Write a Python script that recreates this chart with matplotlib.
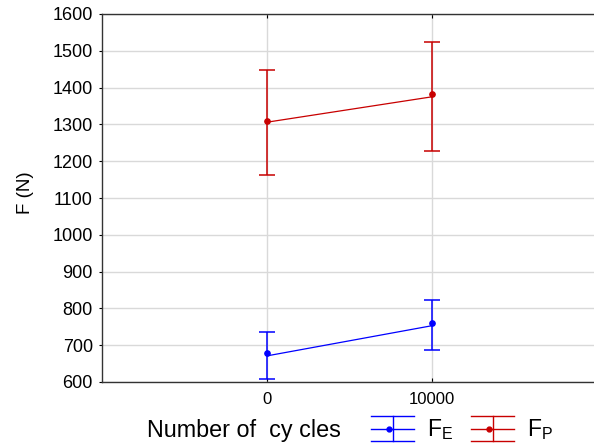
import matplotlib
matplotlib.use("Agg")
import matplotlib.pyplot as plt
from matplotlib.lines import Line2D

plt.rcParams['font.family'] = ['Liberation Sans', 'DejaVu Sans']

# data
cycles = [0, 10000]
fe_line = [671, 753]
fe_dot = [680, 759]
fe_low = [607, 687]
fe_high = [735, 822]
fp_line = [1306, 1375]
fp_dot = [1310, 1383]
fp_low = [1163, 1227]
fp_high = [1449, 1523]

blue = '#0000ff'
red = '#c80000'


class ErrHandler:
    # legend glyph: three full-width horizontal lines, a vertical bar and a dot
    def legend_artist(self, legend, orig_handle, fontsize, handlebox):
        x0, y0 = -handlebox.xdescent, -handlebox.ydescent
        w, h = handlebox.width, handlebox.height
        col = orig_handle.get_color()
        cy = y0 + h / 2
        half = 9.1
        for yy in (cy - half, cy, cy + half):
            handlebox.add_artist(Line2D([x0, x0 + w], [yy, yy], color=col, lw=1.0))
        handlebox.add_artist(Line2D([x0 + w / 2] * 2, [cy - half, cy + half], color=col, lw=1.0))
        dot = Line2D([x0 + w / 2 - 2.5], [cy], marker='o', ms=3.5, color=col, ls='none')
        handlebox.add_artist(dot)
        return dot


fig = plt.figure(figsize=(5.94, 4.45), dpi=100)
ax = fig.add_axes([102 / 594, 1 - 382 / 445, 495 / 594, 368 / 445])

handles = []
for line, dot, low, high, col in [(fe_line, fe_dot, fe_low, fe_high, blue),
                                  (fp_line, fp_dot, fp_low, fp_high, red)]:
    ax.plot(cycles, line, color=col, lw=0.9, zorder=3)
    ax.plot(cycles, dot, 'o', color=col, ms=3.8, zorder=4)
    yerr = [[d - l for d, l in zip(dot, low)], [h - d for d, h in zip(dot, high)]]
    ax.errorbar(cycles, dot, yerr=yerr, fmt='none', ecolor=col,
                elinewidth=1.1, capsize=6, capthick=1.1, zorder=3)
    handles.append(Line2D([], [], color=col))

ax.set_xlim(-10000, 20000)
ax.set_ylim(600, 1600)
ax.set_xticks(cycles)
ax.set_xticklabels(['0', '10000'])
ax.set_yticks(range(600, 1700, 100))
ax.grid(True, color='#d9d9d9', lw=1.0, zorder=0)
ax.set_axisbelow(True)
ax.spines['right'].set_visible(False)
for s in ['left', 'bottom', 'top']:
    ax.spines[s].set_color('#333333')
    ax.spines[s].set_linewidth(1.0)
ax.tick_params(axis='x', direction='in', length=3, labelsize=12, top=True, pad=7)
ax.tick_params(axis='y', direction='out', length=2.5, labelsize=13, pad=4)

fig.text(25 / 594, 1 - 193 / 445, 'F (N)', fontsize=13.5, rotation=90,
         ha='center', va='center')
fig.text(147 / 594, 1 - 437 / 445, 'Number of  cy cles', fontsize=16.8,
         ha='left', va='baseline')
fig.legend(handles, [r'F$_\mathregular{E}$', r'F$_\mathregular{P}$'],
           loc='center left', bbox_to_anchor=(371 / 594, 1 - 430 / 445),
           ncol=2, frameon=False, fontsize=16.5, handlelength=1.88,
           columnspacing=0.8, handletextpad=0.55, borderpad=0, borderaxespad=0,
           handler_map={Line2D: ErrHandler()})

fig.savefig('out.png', dpi=100)
